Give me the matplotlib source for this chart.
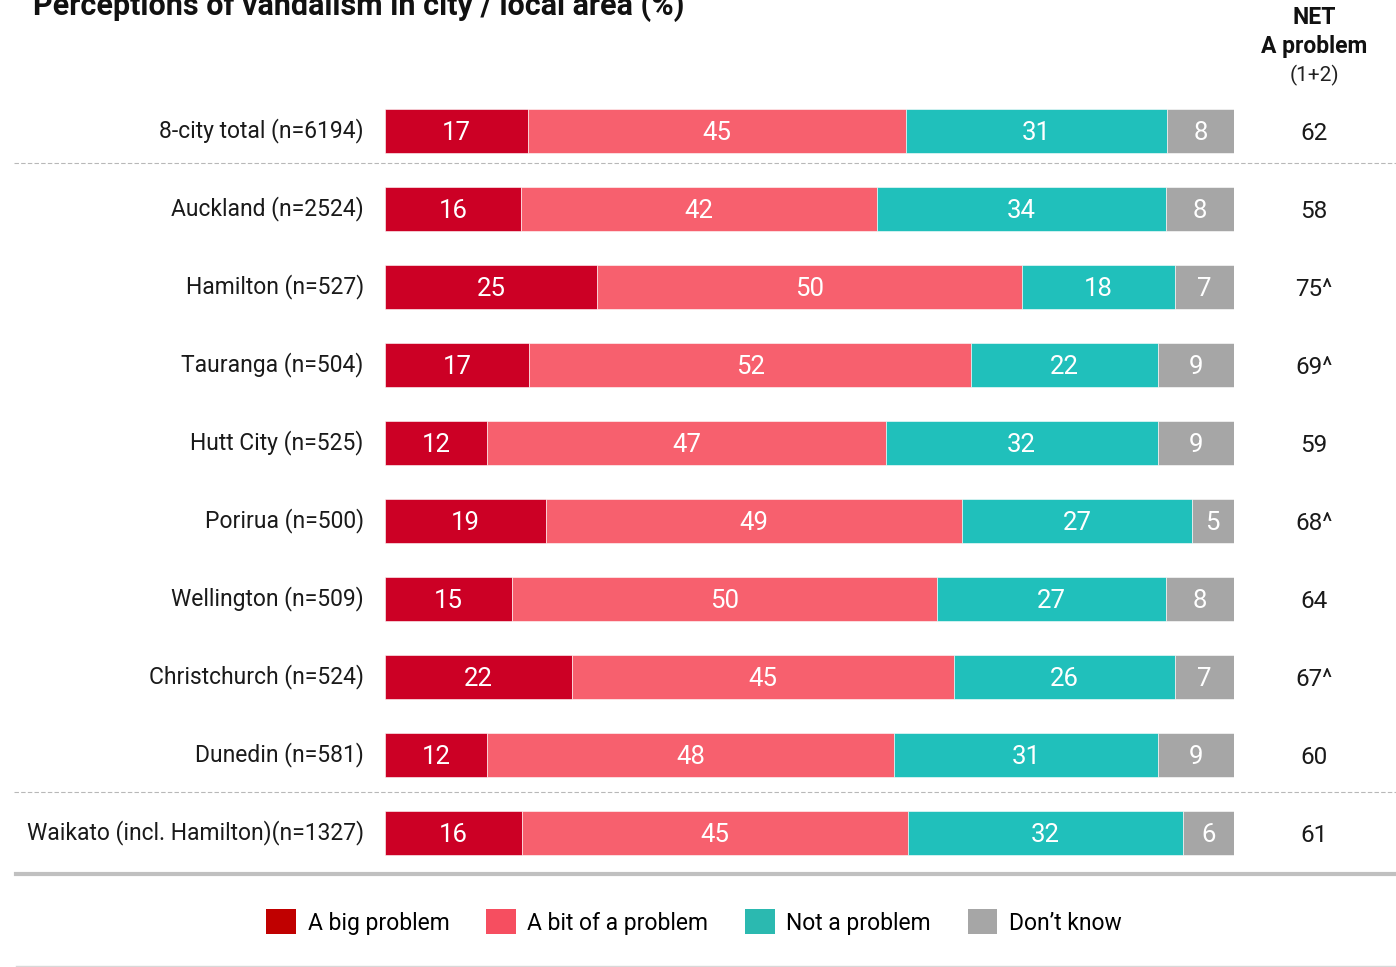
import matplotlib
matplotlib.use("Agg")
import matplotlib.pyplot as plt
from matplotlib.lines import Line2D
from matplotlib.patches import Patch

plt.rcParams['font.family'] = ['Roboto', 'DejaVu Sans']

# survey results (%)
places = ["8-city total (n=6194)", "Auckland (n=2524)", "Hamilton (n=527)",
          "Tauranga (n=504)", "Hutt City (n=525)", "Porirua (n=500)",
          "Wellington (n=509)", "Christchurch (n=524)", "Dunedin (n=581)",
          "Waikato (incl. Hamilton)(n=1327)"]
big_problem = [17, 16, 25, 17, 12, 19, 15, 22, 12, 16]
bit_problem = [45, 42, 50, 52, 47, 49, 50, 45, 48, 45]
not_problem = [31, 34, 18, 22, 32, 27, 27, 26, 31, 32]
dont_know = [8, 8, 7, 9, 9, 5, 8, 7, 9, 6]
net_labels = ["62", "58", "75^", "69^", "59", "68^", "64", "67^", "60", "61"]

series = [big_problem, bit_problem, not_problem, dont_know]
names = ["A big problem", "A bit of a problem", "Not a problem", "Don\u2019t know"]
bar_colors = ["#cc0025", "#f7606e", "#20c0bb", "#a6a6a6"]
key_colors = ["#c00000", "#f64e60", "#2bb9b0", "#a6a6a6"]

W, H = 1396, 967
fig = plt.figure(figsize=(W / 100, H / 100), dpi=100)
ax = fig.add_axes([385 / W, 1 - 872 / H, 849 / W, 780 / H])

for i in range(len(places)):
    vals = [s[i] for s in series]
    total = sum(vals)
    left = 0
    for v, c in zip(vals, bar_colors):
        w = v / total * 100
        ax.barh(i, w, left=left, height=0.57, color=c, edgecolor="white", linewidth=0.4)
        ax.text(left + w / 2, i + 0.02, str(v), ha="center", va="center",
                color="white", fontsize=18.5)
        left += w
    ax.text(-0.025, i, places[i], transform=ax.get_yaxis_transform(),
            ha="right", va="center", fontsize=16.5, color="#1a1a1a")
    ax.text(1.094, i + 0.03, net_labels[i], transform=ax.get_yaxis_transform(),
            ha="center", va="center", fontsize=17.5, color="#1a1a1a")

ax.set_xlim(0, 100)
ax.set_ylim(9.5, -0.5)
ax.axis("off")

# header for the NET column
fig.text(1314 / W, 1 - 18 / H, "NET", ha="center", va="center",
         fontsize=16.5, fontweight="bold", color="#111111")
fig.text(1314 / W, 1 - 47 / H, "A problem", ha="center", va="center",
         fontsize=16.5, fontweight="bold", color="#111111")
fig.text(1314 / W, 1 - 75 / H, "(1+2)", ha="center", va="center",
         fontsize=15, color="#222222")

# title, mostly above the top edge
fig.text(33 / W, 1 - 15 / H, "Perceptions of vandalism in city / local area (%)",
         ha="left", va="baseline", fontsize=22, fontweight="bold", color="#111111")

# separators
for y in [163, 792]:
    fig.add_artist(Line2D([14 / W, 1], [1 - y / H] * 2, color="#b8b8b8",
                          linestyle=(0, (4, 2)), linewidth=0.8))
fig.add_artist(Line2D([16 / W, 1], [1 - 874 / H] * 2, color="#c0c0c0", linewidth=3))
fig.add_artist(Line2D([16 / W, 1], [1 - 966 / H] * 2, color="#d8d8d8", linewidth=1))

handles = [Patch(facecolor=c) for c in key_colors]
fig.legend(handles, names, loc="center", bbox_to_anchor=(694 / W, 1 - 922 / H),
           ncol=4, frameon=False, fontsize=16.5, handlelength=1.3, handleheight=1.3,
           handletextpad=0.5, columnspacing=1.6)

fig.savefig("out.png", dpi=100)
